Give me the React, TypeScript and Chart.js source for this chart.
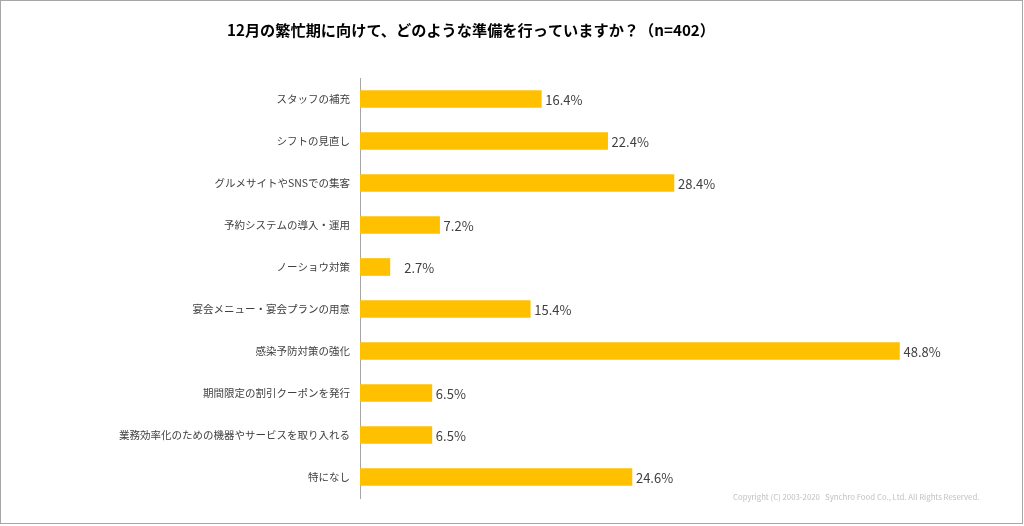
import React, { useEffect, useRef } from "react";
import { Chart, registerables } from "chart.js";

Chart.register(...registerables);

const TITLE = "12月の繁忙期に向けて、どのような準備を行っていますか？（n=402）";
const COPYRIGHT = "Copyright (C) 2003-2020   Synchro Food Co., Ltd. All Rights Reserved.";

const categories = [
  "スタッフの補充",
  "シフトの見直し",
  "グルメサイトやSNSでの集客",
  "予約システムの導入・運用",
  "ノーショウ対策",
  "宴会メニュー・宴会プランの用意",
  "感染予防対策の強化",
  "期間限定の割引クーポンを発行",
  "業務効率化のための機器やサービスを取り入れる",
  "特になし",
];

const values = [16.4, 22.4, 28.4, 7.2, 2.7, 15.4, 48.8, 6.5, 6.5, 24.6];

const FONT = "'Noto Sans CJK JP', 'Noto Sans', sans-serif";

const overlayPlugin = {
  id: "overlay",
  afterDraw(chart: any) {
    const ctx = chart.ctx;
    const meta = chart.getDatasetMeta(0);
    const xScale = chart.scales.x;
    ctx.save();
    // value labels
    ctx.font = `13px ${FONT}`;
    ctx.fillStyle = "#404040";
    ctx.textAlign = "left";
    ctx.textBaseline = "middle";
    meta.data.forEach((bar: any, i: number) => {
      const x = Math.max(bar.x + 4, xScale.getPixelForValue(4));
      ctx.fillText(values[i].toFixed(1) + "%", x, bar.y + 1);
    });
    // title
    ctx.font = `bold 15.2px ${FONT}`;
    ctx.fillStyle = "#000000";
    ctx.textAlign = "center";
    ctx.fillText(TITLE, 471, 30);
    // copyright
    ctx.font = `7.8px ${FONT}`;
    ctx.fillStyle = "#c0c0c0";
    ctx.textAlign = "left";
    ctx.fillText(COPYRIGHT, 733, 497);
    // border
    ctx.strokeStyle = "#a6a6a6";
    ctx.lineWidth = 1;
    ctx.strokeRect(0.5, 0.5, 1022, 523);
    ctx.restore();
  },
};

export default function App() {
  const ref = useRef<HTMLCanvasElement | null>(null);
  useEffect(() => {
    if (!ref.current) return;
    const chart = new Chart(ref.current, {
      type: "bar",
      data: {
        labels: categories,
        datasets: [
          {
            data: values,
            backgroundColor: "#FFC000",
            barThickness: 17,
          },
        ],
      },
      options: {
        indexAxis: "y",
        responsive: false,
        animation: false,
        layout: { padding: { left: 0, right: 56, top: 78, bottom: 28 } },
        plugins: {
          legend: { display: false },
          title: { display: false },
          tooltip: { enabled: false },
        },
        scales: {
          x: {
            display: false,
            min: 0,
            max: 55,
          },
          y: {
            afterFit(scale: any) {
              scale.width = 360;
            },
            grid: { display: false, drawTicks: false },
            border: { display: true, color: "#a6a6a6", width: 1 },
            ticks: {
              padding: 10,
              color: "#404040",
              font: { family: FONT, size: 10.5 },
            },
          },
        },
      },
      plugins: [overlayPlugin],
    });
    return () => chart.destroy();
  }, []);
  return (
    <div style={{ position: "fixed", left: 0, top: 0, width: 1024, height: 526, background: "#fff" }}>
      <canvas ref={ref} width={1024} height={526} style={{ width: 1024, height: 526 }} />
    </div>
  );
}
